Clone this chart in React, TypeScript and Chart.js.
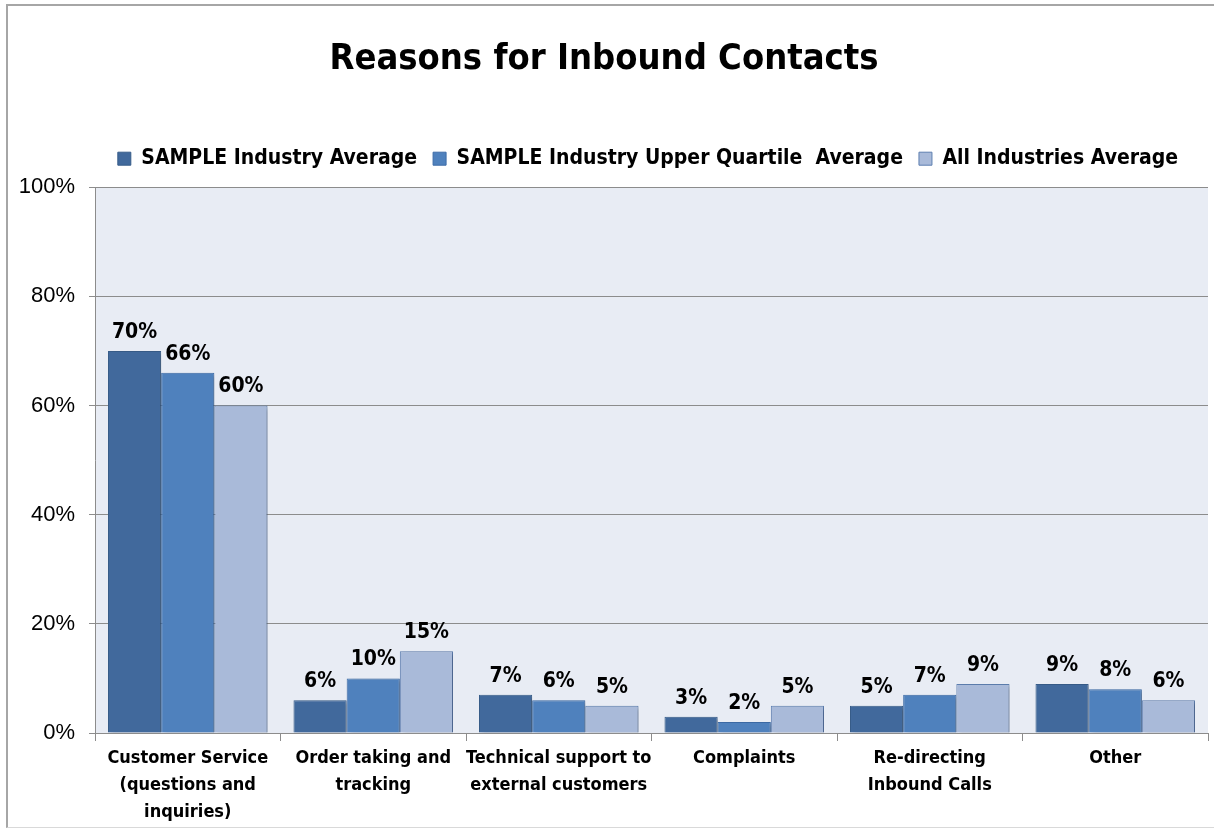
import React, { useEffect, useRef } from "react";
import { Chart, registerables } from "chart.js";

Chart.register(...registerables);

const categories: (string | string[])[] = [
  ["Customer Service", "(questions and", "inquiries)"],
  ["Order taking and", "tracking"],
  ["Technical support to", "external customers"],
  "Complaints",
  ["Re-directing", "Inbound Calls"],
  "Other",
];
const seriesNames = [
  "SAMPLE Industry Average",
  "SAMPLE Industry Upper Quartile  Average",
  "All Industries Average",
];
const industryAvg = [70, 6, 7, 3, 5, 9];
const upperQuartileAvg = [66, 10, 6, 2, 7, 8];
const allIndustriesAvg = [60, 15, 5, 5, 9, 6];
const yTicks = [0, 20, 40, 60, 80, 100];

const FONT = '"Liberation Sans Narrow", "DejaVu Sans Condensed", "Liberation Sans", sans-serif';

const bgPlugin = {
  id: "plotBg",
  beforeDraw(chart: any) {
    const { ctx, chartArea } = chart;
    ctx.save();
    ctx.fillStyle = "#E8ECF4";
    ctx.fillRect(chartArea.left, chartArea.top, chartArea.right - chartArea.left, chartArea.bottom - chartArea.top);
    ctx.restore();
  },
};

const legendTweak = {
  id: "legendTweak",
  beforeLayout(chart: any) {
    const lg = chart.legend;
    if (lg && !lg.__patched) {
      const origFit = lg.fit.bind(lg);
      lg.fit = function () {
        origFit();
        this.height += 8;
      };
      lg.__patched = true;
    }
  },
  afterLayout(chart: any) {
    const lg = chart.legend;
    if (lg) {
      lg.left += 44;
      lg.right += 44;
    }
  },
};

const shadowPlugin = {
  id: "barShadow",
  beforeDatasetDraw(chart: any) {
    const ctx = chart.ctx;
    ctx.save();
    ctx.shadowColor = "rgba(0,0,0,0.22)";
    ctx.shadowBlur = 4;
    ctx.shadowOffsetX = 3;
    ctx.shadowOffsetY = 2;
  },
  afterDatasetDraw(chart: any) {
    chart.ctx.restore();
  },
};

const labelPlugin = {
  id: "valueLabels",
  afterDatasetsDraw(chart: any) {
    const ctx = chart.ctx;
    ctx.save();
    ctx.font = `bold 21px ${FONT}`;
    ctx.fillStyle = "#000";
    ctx.textAlign = "center";
    ctx.textBaseline = "bottom";
    chart.data.datasets.forEach((ds: any, i: number) => {
      const meta = chart.getDatasetMeta(i);
      meta.data.forEach((bar: any, j: number) => {
        ctx.fillText(`${ds.data[j]}%`, bar.x, bar.y - 8);
      });
    });
    ctx.restore();
  },
};

export default function App() {
  const ref = useRef<HTMLCanvasElement | null>(null);
  useEffect(() => {
    document.body.style.margin = "0";
    if (!ref.current) return;
    const chart = new Chart(ref.current, {
      type: "bar",
      data: {
        labels: categories,
        datasets: [
          { label: seriesNames[0], data: industryAvg, backgroundColor: "#41699C", borderColor: "#385D8A", borderWidth: 1 },
          { label: seriesNames[1], data: upperQuartileAvg, backgroundColor: "#4F81BD", borderColor: "#3D6CA8", borderWidth: 1 },
          { label: seriesNames[2], data: allIndustriesAvg, backgroundColor: "#A9BAD9", borderColor: "#5E7FB0", borderWidth: 1 },
        ],
      },
      options: {
        animation: false,
        responsive: false,
        maintainAspectRatio: false,
        layout: { padding: { left: 0, right: 6, top: 0, bottom: 0 } },
        datasets: { bar: { categoryPercentage: 0.86, barPercentage: 1 } },
        plugins: {
          title: {
            display: true,
            text: "Reasons for Inbound Contacts",
            color: "#000",
            font: { family: FONT, size: 36, weight: "bold" },
            padding: { top: 38, bottom: 51 },
          },
          legend: {
            display: true,
            position: "top",
            labels: {
              color: "#000",
              font: { family: FONT, size: 21, weight: "bold" },
              boxWidth: 13,
              boxHeight: 13,
              padding: 16,
            },
          },
          tooltip: { enabled: false },
        },
        scales: {
          x: {
            grid: { display: true, drawOnChartArea: false, drawTicks: true, tickLength: 8, color: "#8C8C8C", offset: true },
            border: { display: true, color: "#8C8C8C", width: 1 },
            ticks: {
              color: "#000",
              font: { family: FONT, size: 18, weight: "bold", lineHeight: 1.5 },
              maxRotation: 0,
              autoSkip: false,
              padding: 4,
            },
            afterFit(scale: any) {
              scale.height = 98;
            },
          },
          y: {
            min: 0,
            max: 100,
            afterBuildTicks(scale: any) {
              scale.ticks = yTicks.map((v) => ({ value: v }));
            },
            grid: { color: "#8C8C8C", tickLength: 6, drawTicks: true },
            border: { display: true, color: "#8C8C8C" },
            ticks: {
              color: "#000",
              font: { family: '"Liberation Sans", sans-serif', size: 22 },
              padding: 14,
              callback: (v: any) => `${v}%`,
            },
            afterFit(scale: any) {
              scale.width = 95;
            },
          },
        },
      },
      plugins: [legendTweak, bgPlugin, shadowPlugin, labelPlugin],
    });
    return () => chart.destroy();
  }, []);

  return (
    <div style={{ position: "relative", width: 1214, height: 831, overflow: "hidden", background: "#fff" }}>
      <div
        style={{
          position: "absolute",
          left: 6,
          top: 4,
          width: 1230,
          height: 824,
          borderTop: "2px solid #A6A6A6",
          borderLeft: "2px solid #A6A6A6",
          borderBottom: "1px solid #D9D9D9",
          boxSizing: "border-box",
        }}
      />
      <canvas ref={ref} width={1214} height={831} style={{ position: "absolute", left: 0, top: 0, width: 1214, height: 831 }} />
    </div>
  );
}
